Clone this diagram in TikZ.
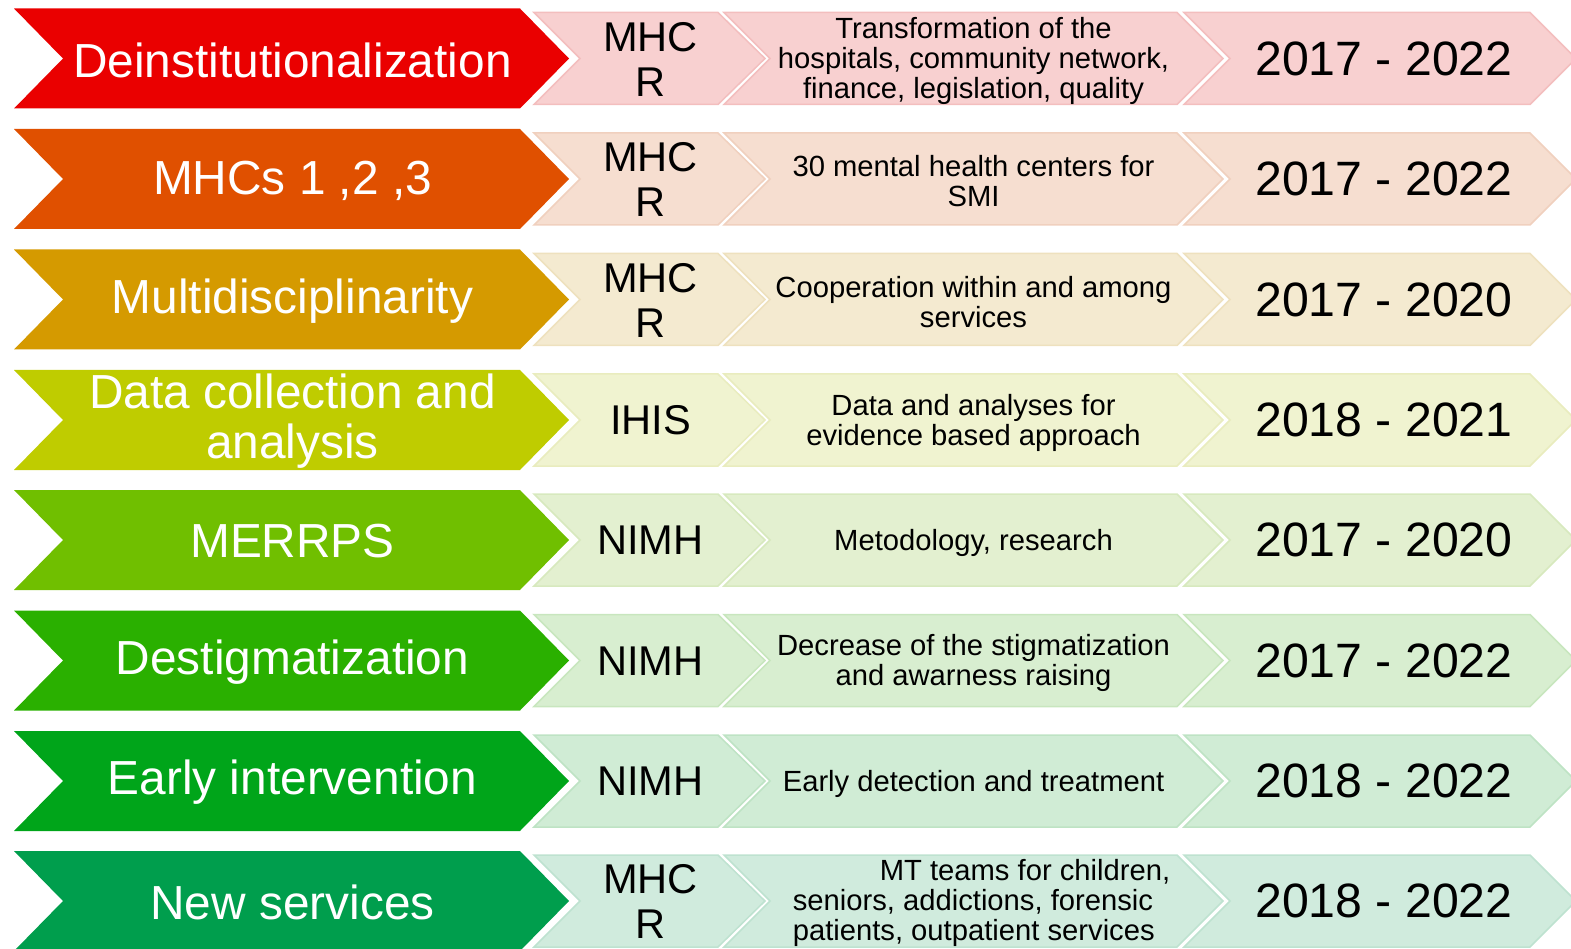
\documentclass[tikz,border=0pt]{standalone}
\usepackage{fontspec}
\setmainfont{Liberation Sans}
\begin{document}
\begin{tikzpicture}[x=1pt,y=-1pt,
  bigtxt/.style={text=white,font=\fontsize{47.8}{50}\selectfont,align=center,inner sep=0pt},
  orgtxt/.style={text=black,font=\fontsize{41.6}{45}\selectfont,align=center,inner sep=0pt},
  desctxt/.style={text=black,font=\fontsize{29.2}{30}\selectfont,align=center,inner sep=0pt},
  yeartxt/.style={text=black,font=\fontsize{48.2}{50}\selectfont,inner sep=0pt}]
\useasboundingbox (0,0) rectangle (1571,949);
\clip (0,0) rectangle (1571,949);
\definecolor{c1}{HTML}{EA0000}
\definecolor{c2}{HTML}{E05000}
\definecolor{c3}{HTML}{D59A00}
\definecolor{c4}{HTML}{BFCC00}
\definecolor{c5}{HTML}{70BF00}
\definecolor{c6}{HTML}{2AB000}
\definecolor{c7}{HTML}{00A51A}
\definecolor{c8}{HTML}{009E4D}
\newcommand{\chrow}[7]{%
  \colorlet{lt}{#2!17!white!98.5!black}%
  \colorlet{ltb}{#2!23!white!97!black}%
  \fill[#2] (14,#1-50) -- (520,#1-50) -- (569,#1) -- (520,#1+50) -- (14,#1+50) -- (63,#1) -- cycle;
  \filldraw[fill=lt,draw=ltb,line width=1.5pt] (534,#1-46) -- (718,#1-46) -- (765,#1) -- (718,#1+46) -- (534,#1+46) -- (580,#1) -- cycle;
  \filldraw[fill=lt,draw=ltb,line width=1.5pt] (724,#1-46) -- (1177,#1-46) -- (1223,#1) -- (1177,#1+46) -- (724,#1+46) -- (770,#1) -- cycle;
  \filldraw[fill=lt,draw=ltb,line width=1.5pt] (1184,#1-46) -- (1530,#1-46) -- (1576,#1) -- (1530,#1+46) -- (1184,#1+46) -- (1230,#1) -- cycle;
  \node[bigtxt] (lab#7) at (292.5,#1+1.5) {#3};
  \node[orgtxt] (org#7) at (650.5,#1+0.5) {#4};
  \node[desctxt] (desc#7) at (973.5,#1+2.5) {#5};
  \node[yeartxt] (yr#7) at (1384,#1) {#6};
}
\chrow{58.5}{c1}{Deinstitutionalization}{MHC\\R}{Transformation of the\\hospitals, community network,\\finance, legislation, quality}{2017 - 2022}{a}
\chrow{179}{c2}{MHCs 1 ,2 ,3}{MHC\\R}{30 mental health centers for\\SMI}{2017 - 2022}{b}
\chrow{299.5}{c3}{Multidisciplinarity}{MHC\\R}{Cooperation within and among\\services}{2017 - 2020}{c}
\chrow{420}{c4}{Data collection and\\analysis}{IHIS}{Data and analyses for\\evidence based approach}{2018 - 2021}{d}
\chrow{540}{c5}{MERRPS}{NIMH}{Metodology, research}{2017 - 2020}{e}
\chrow{660.5}{c6}{Destigmatization}{NIMH}{Decrease of the stigmatization\\and awarness raising}{2017 - 2022}{f}
\chrow{781}{c7}{Early intervention}{NIMH}{Early detection and treatment}{2018 - 2022}{g}
\colorlet{lt}{c8!17!white!98.5!black}
\colorlet{ltb}{c8!23!white!97!black}
\fill[c8] (14,851) -- (520,851) -- (569,901) -- (520,951) -- (14,951) -- (63,901) -- cycle;
\filldraw[fill=lt,draw=ltb,line width=1.5pt] (534,855) -- (718,855) -- (765,901) -- (718,947) -- (534,947) -- (580,901) -- cycle;
\filldraw[fill=lt,draw=ltb,line width=1.5pt] (724,855) -- (1177,855) -- (1223,901) -- (1177,947) -- (724,947) -- (770,901) -- cycle;
\filldraw[fill=lt,draw=ltb,line width=1.5pt] (1184,855) -- (1530,855) -- (1576,901) -- (1530,947) -- (1184,947) -- (1230,901) -- cycle;
\node[bigtxt] (labh) at (292.5,902.5) {New services};
\node[orgtxt] (orgh) at (650.5,901.5) {MHC\\R};
\node[desctxt,align=left] (desch) at (981.5,903) {\hspace*{87pt}MT teams for children,\\seniors, addictions, forensic\\patients, outpatient services};
\node[yeartxt] (yrh) at (1384,901) {2018 - 2022};
\end{tikzpicture}
\end{document}
